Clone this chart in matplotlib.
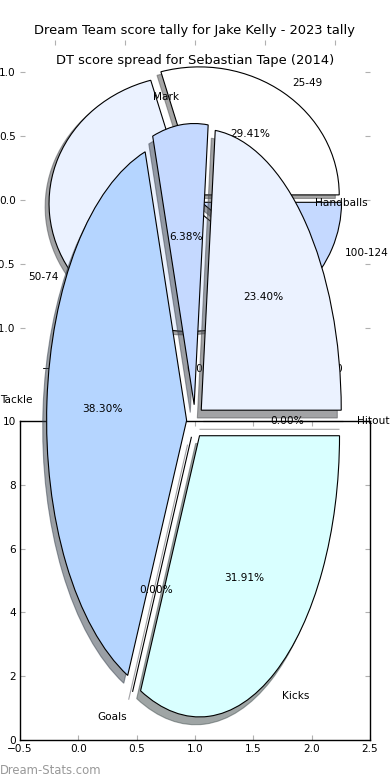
import matplotlib
matplotlib.use('Agg')
import matplotlib.pyplot as plt

W, H = 390, 780

# Jake Kelly 2023 - games in each score bracket
jk_labels = ['25-49', '50-74', '100-124']
jk_games = [5, 10, 2]

# Sebastian Tape 2014 - stat spread
dt_labels = ['Hitout', 'Handballs', 'Mark', 'Tackle', 'Goals', 'Kicks']
dt_counts = [0, 11, 3, 18, 0, 15]

pie_colours = ['#ffffff', '#ebf2ff', '#c5d9ff', '#b5d5ff', '#e6e6ff', '#d9ffff']

jk_ticks = [-1.0, -0.5, 0.0, 0.5, 1.0]
bot_xticks = [-0.5, 0.0, 0.5, 1.0, 1.5, 2.0, 2.5]
bot_yticks = [0, 2, 4, 6, 8, 10]

FS = 7.6
TICK_GREY = '#b0b0b0'


def box(l, t, r, b):
	# pixel box -> figure fraction
	return [l / W, 1 - b / H, (r - l) / W, (b - t) / H]


fig = plt.figure(figsize=(W / 100, H / 100), dpi=100)
fig.patch.set_facecolor('white')

ax_jk = fig.add_axes(box(20, 40, 370, 360))
ax_bot = fig.add_axes(box(20, 421, 370, 740))
ax_dt = fig.add_axes(box(20, 70, 370, 773))

wp = dict(edgecolor='black', linewidth=0.8)

# top pie
ax_jk.pie(jk_games, labels=jk_labels, colors=pie_colours[:len(jk_games)],
	explode=[0.05] * len(jk_games), autopct='%1.2f%%', shadow=True,
	startangle=0, wedgeprops=wp, textprops=dict(fontsize=FS))
ax_jk.set_aspect('auto')
ax_jk.set_xlim(-1.25, 1.25)
ax_jk.set_ylim(-1.25, 1.25)
ax_jk.set_frame_on(False)
ax_jk.set_xticks(jk_ticks)
ax_jk.set_yticks(jk_ticks)
ax_jk.tick_params(direction='in', length=3.5, width=0.8, color=TICK_GREY,
	top=True, right=True, labelsize=FS, pad=3)
ax_jk.set_title('Dream Team score tally for Jake Kelly - 2023 tally', fontsize=9.4, pad=4)

# empty framed axes underneath
ax_bot.set_xlim(-0.5, 2.5)
ax_bot.set_ylim(0, 10)
ax_bot.set_xticks(bot_xticks)
ax_bot.set_yticks(bot_yticks)
ax_bot.tick_params(direction='in', length=3.5, width=0.8, color=TICK_GREY,
	top=True, right=True, labelsize=FS, pad=3)
for s in ax_bot.spines.values():
	s.set_linewidth(1.0)

# big stretched pie
ax_dt.pie(dt_counts, labels=dt_labels, colors=pie_colours,
	explode=[0.06] * len(dt_counts), autopct='%1.2f%%', shadow=True,
	startangle=0, wedgeprops=wp, textprops=dict(fontsize=FS))
ax_dt.set_aspect('auto')
ax_dt.set_xlim(-1.25, 1.25)
ax_dt.set_ylim(-1.25, 1.25)
ax_dt.set_title('DT score spread for Sebastian Tape (2014)', fontsize=9.4, pad=4)

fig.text(0.0, 0.004, 'Dream-Stats.com', fontsize=8.4, color='#999999', ha='left', va='bottom')

fig.savefig('out.png', dpi=100)
